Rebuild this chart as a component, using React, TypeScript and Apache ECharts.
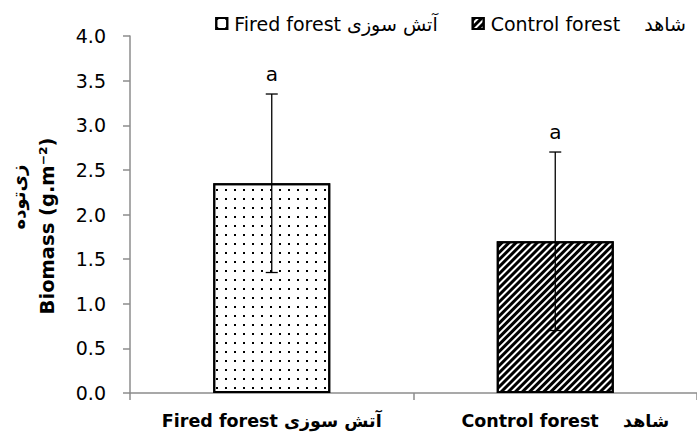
import React, { useEffect, useRef } from "react";
import * as echarts from "echarts";

const NB = "\u00A0";
const categories = ["Fired forest آتش سوزی", `Control forest${NB}${NB}${NB}${NB}شاهد`];
const seriesNames = ["Fired forest آتش سوزی", `Control forest${NB}${NB}${NB}${NB}شاهد`];
const means = [2.35, 1.7];
const errLow = [1.35, 0.7];
const errHigh = [3.35, 2.7];
const sigLetters = ["a", "a"];
const yMin = 0;
const yMax = 4;
const yInterval = 0.5;
const yTitlePersian = "زی‌توده";
const yTitleEnglish = "Biomass (g.m⁻²)";

const FONT = "DejaVu Sans";

export default function App() {
  const ref = useRef<HTMLDivElement>(null);
  useEffect(() => {
    if (!ref.current) return;
    const chart = echarts.init(ref.current, undefined, { renderer: "svg" });
    const decals = [
      {
        symbol: "rect",
        symbolSize: 1,
        color: "#000",
        backgroundColor: "#fff",
        dashArrayX: [1.6, 6.8],
        dashArrayY: [1.6, 6.8],
        rotation: 0,
      },
      {
        symbol: "rect",
        symbolSize: 1,
        color: "#000",
        backgroundColor: "#fff",
        dashArrayX: [1, 0],
        dashArrayY: [2.2, 1.8],
        rotation: -Math.PI / 4,
      },
    ];
    const barSeries = seriesNames.map((name, i) => ({
      name,
      type: "bar",
      barWidth: 117,
      barGap: "-100%",
      data: categories.map((_, j) => (j === i ? means[j] : "-")),
      itemStyle: {
        color: "#fff",
        borderColor: "#000",
        borderWidth: 2,
        decal: decals[i],
      },
      z: 2,
    }));
    const errData = categories.map((_, i) => [i, errLow[i], errHigh[i]]);
    chart.setOption({
      animation: false,
      textStyle: { fontFamily: FONT },
      aria: { enabled: true, decal: { show: true } },
      legend: {
        top: 9,
        right: 6,
        icon: "rect",
        itemWidth: 11,
        itemHeight: 11,
        itemGap: 34,
        data: seriesNames,
        textStyle: { fontSize: 19, color: "#000", fontFamily: FONT, padding: [0, 0, 0, 2] },
      },
      grid: { left: 130, right: -5, top: 36, bottom: 44, containLabel: false },
      xAxis: {
        type: "category",
        data: categories,
        axisLine: { lineStyle: { color: "#8c8c8c", width: 1.5 } },
        axisTick: { show: true, length: 7, lineStyle: { color: "#8c8c8c", width: 1.5 } },
        axisLabel: {
          interval: 0,
          hideOverlap: false,
          margin: 19,
          fontSize: 17.5,
          fontWeight: "bold",
          color: "#000",
          fontFamily: FONT,
          formatter: (v: string, i: number) => (i === 1 ? `{r|${v}}` : `{n|${v}}`),
          rich: {
            n: { fontSize: 17.5, fontWeight: "bold", fontFamily: FONT, color: "#000" },
            r: {
              fontSize: 17.5,
              fontWeight: "bold",
              fontFamily: FONT,
              color: "#000",
              padding: [0, 0, 0, 20],
            },
          },
        },
      },
      yAxis: {
        type: "value",
        min: yMin,
        max: yMax,
        interval: yInterval,
        splitLine: { show: false },
        axisLine: { show: true, lineStyle: { color: "#8c8c8c", width: 1.5 } },
        axisTick: { show: true, length: 7, lineStyle: { color: "#8c8c8c", width: 1.5 } },
        axisLabel: {
          margin: 24,
          fontSize: 19,
          color: "#000",
          fontFamily: FONT,
          formatter: (v: number) => v.toFixed(1),
        },
      },
      graphic: [
        {
          type: "text",
          x: 18,
          y: 197,
          rotation: Math.PI / 2,
          style: {
            text: yTitlePersian,
            fontSize: 18,
            fontWeight: "bold",
            fontFamily: FONT,
            fill: "#000",
            align: "center",
            verticalAlign: "middle",
          },
        },
        {
          type: "text",
          x: 47,
          y: 226,
          rotation: Math.PI / 2,
          style: {
            text: yTitleEnglish,
            fontSize: 19.5,
            fontWeight: "bold",
            fontFamily: FONT,
            fill: "#000",
            align: "center",
            verticalAlign: "middle",
          },
        },
      ],
      series: [
        ...barSeries,
        {
          type: "custom",
          name: "err",
          z: 5,
          encode: { x: 0, y: [1, 2] },
          data: errData,
          renderItem: (params: any, api: any) => {
            const idx = api.value(0);
            const lo = api.coord([idx, api.value(1)]);
            const hi = api.coord([idx, api.value(2)]);
            const cap = 6;
            const ls = { stroke: "#000", lineWidth: 1.3 };
            return {
              type: "group",
              children: [
                { type: "line", shape: { x1: lo[0], y1: lo[1], x2: hi[0], y2: hi[1] }, style: ls },
                { type: "line", shape: { x1: hi[0] - cap, y1: hi[1], x2: hi[0] + cap, y2: hi[1] }, style: ls },
                { type: "line", shape: { x1: lo[0] - cap, y1: lo[1], x2: lo[0] + cap, y2: lo[1] }, style: ls },
                {
                  type: "text",
                  x: hi[0],
                  y: hi[1] - 20,
                  style: {
                    text: sigLetters[idx],
                    fontSize: 20,
                    fontFamily: FONT,
                    fill: "#000",
                    align: "center",
                    verticalAlign: "middle",
                  },
                },
              ],
            };
          },
        },
      ],
    });
    return () => chart.dispose();
  }, []);
  return (
    <div
      ref={ref}
      style={{ position: "absolute", left: 0, top: 0, width: 697, height: 437 }}
    />
  );
}
